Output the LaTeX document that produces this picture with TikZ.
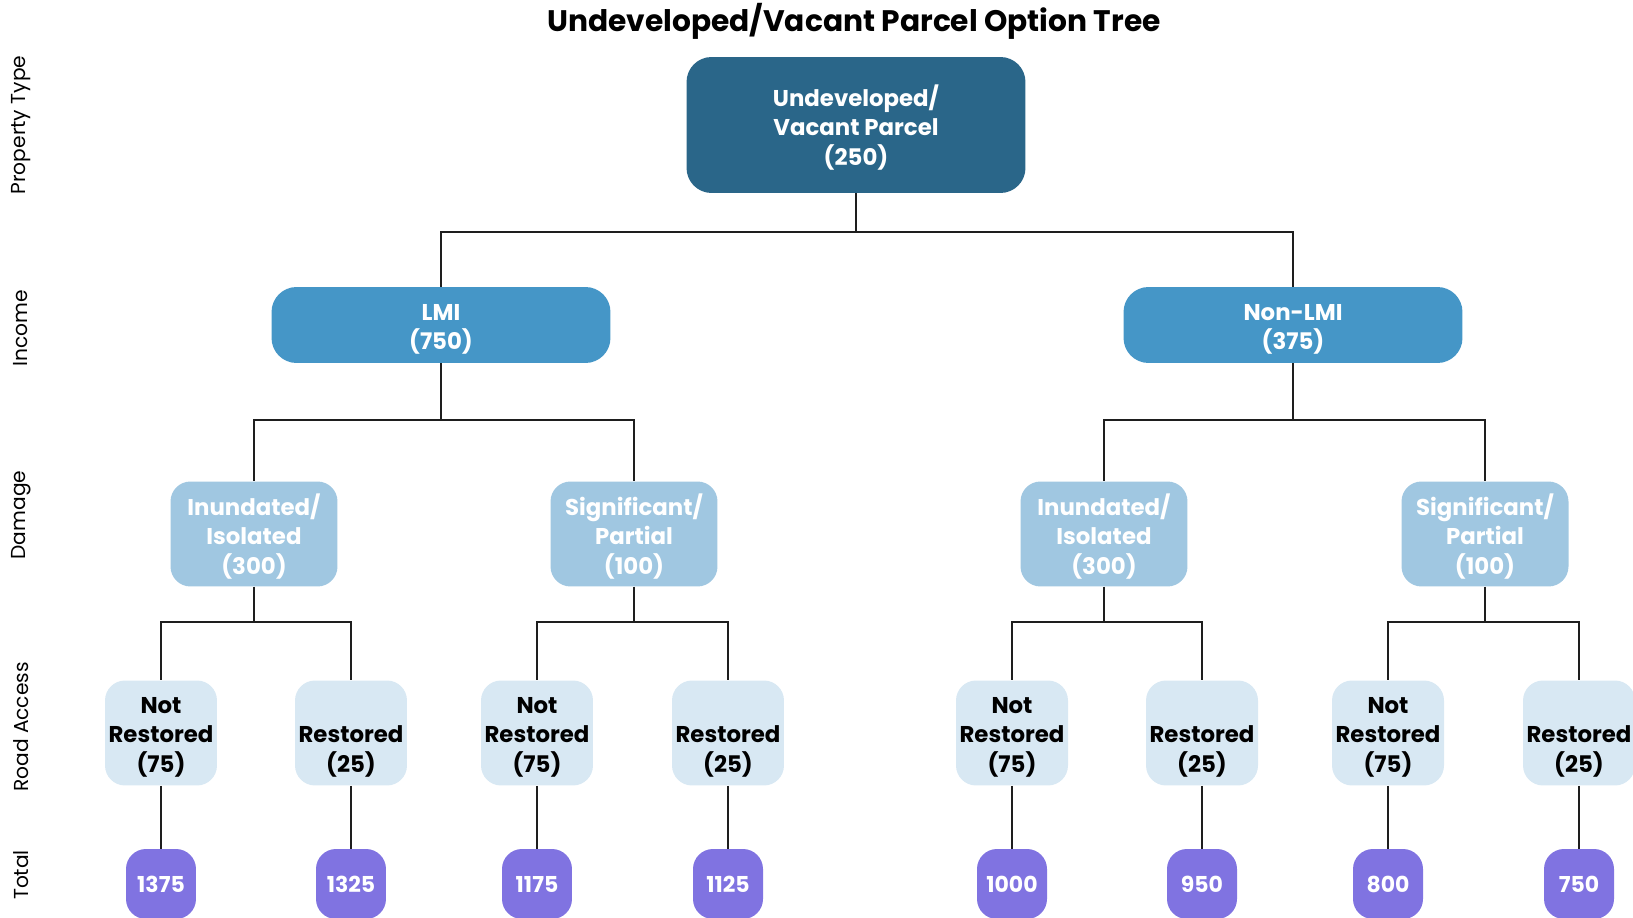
\documentclass[tikz,border=0pt]{standalone}
\usepackage{fontspec}
\setmainfont{Poppins}
\usepackage{xcolor}
\usetikzlibrary{positioning}

\definecolor{rootblue}{HTML}{2A6689}
\definecolor{incblue}{HTML}{4596C7}
\definecolor{dmgblue}{HTML}{A0C7E1}
\definecolor{roadblue}{HTML}{D8E8F3}
\definecolor{totpurple}{HTML}{8073E1}
\definecolor{linegray}{HTML}{1E1E1E}

% stacked lines, nudged a little below the box centre
\newcommand{\celltext}[1]{\raisebox{0pt}[\dimexpr\height+5pt\relax][\depth]{\begin{tabular}{@{}c@{}}#1\end{tabular}}}

\begin{document}
\begin{tikzpicture}[
        x=0.02cm, y=-0.02cm,
        font=\fontsize{13}{16.5}\selectfont\bfseries,
        tbox/.style={rounded corners=0.4cm, inner sep=0pt},
        rootbox/.style={tbox, fill=rootblue, text=white, minimum width=6.78cm, minimum height=2.72cm, rounded corners=0.5cm},
        incbox/.style={tbox, fill=incblue, text=white, minimum width=6.78cm, minimum height=1.52cm, rounded corners=0.5cm},
        dmgbox/.style={tbox, fill=dmgblue, text=white, minimum width=3.34cm, minimum height=2.1cm},
        roadbox/.style={tbox, fill=roadblue, text=black, minimum width=2.24cm, minimum height=2.1cm},
        totbox/.style={tbox, fill=totpurple, text=white, minimum width=1.4cm, minimum height=1.4cm, font=\fontsize{12.5}{15}\selectfont\bfseries},
        link/.style={draw=linegray, line width=1.1pt},
        rowlbl/.style={rotate=90, font=\fontsize{11.5}{14}\selectfont}
    ]
        \useasboundingbox (0,0) rectangle (1633,918);

        % title and row labels
        \node[font=\fontsize{16.9}{19}\selectfont\bfseries] (title) at (854,21) {Undeveloped/Vacant Parcel Option Tree};
        \node[rowlbl] (lblprop) at (21,125) {Property Type};
        \node[rowlbl] (lblinc) at (21,328) {Income};
        \node[rowlbl] (lbldmg) at (21,515) {Damage};
        \node[rowlbl] (lblroad) at (21,727) {Road Access};
        \node[rowlbl] (lbltot) at (21,875) {Total};

        % upper levels
        \node[rootbox] (root) at (856,125) {\celltext{Undeveloped/\\Vacant Parcel\\(250)}};
        \node[incbox] (lmi) at (441,325) {\celltext{LMI\\(750)}};
        \node[incbox] (nonlmi) at (1293,325) {\celltext{Non-LMI\\(375)}};
        \node[dmgbox] (dmg1) at (254,534) {\celltext{Inundated/\\Isolated\\(300)}};
        \node[dmgbox] (dmg2) at (634,534) {\celltext{Significant/\\Partial\\(100)}};
        \node[dmgbox] (dmg3) at (1104,534) {\celltext{Inundated/\\Isolated\\(300)}};
        \node[dmgbox] (dmg4) at (1485,534) {\celltext{Significant/\\Partial\\(100)}};

        % road access and totals
        \foreach \x/\txt/\tot [count=\i] in {
                161/{Not\\Restored\\(75)}/1375, 351/{\\Restored\\(25)}/1325,
                537/{Not\\Restored\\(75)}/1175, 728/{\\Restored\\(25)}/1125,
                1012/{Not\\Restored\\(75)}/1000, 1202/{\\Restored\\(25)}/950,
                1388/{Not\\Restored\\(75)}/800, 1579/{\\Restored\\(25)}/750} {
            \node[roadbox] (r\i) at (\x,733) {\celltext{\txt}};
            \node[totbox] (t\i) at (\x,884) {\tot};
            \draw[link] (r\i.south) -- (t\i.north);
        }

        % tree links
        \draw[link] (root.south) -- ++(0,39) -| (lmi.north);
        \draw[link] (root.south) -- ++(0,39) -| (nonlmi.north);
        \draw[link] (lmi.south) -- ++(0,57) -| (dmg1.north);
        \draw[link] (lmi.south) -- ++(0,57) -| (dmg2.north);
        \draw[link] (nonlmi.south) -- ++(0,57) -| (dmg3.north);
        \draw[link] (nonlmi.south) -- ++(0,57) -| (dmg4.north);
        \foreach \d/\a/\b in {dmg1/1/2, dmg2/3/4, dmg3/5/6, dmg4/7/8} {
            \draw[link] (\d.south) -- ++(0,35.5) -| (r\a.north);
            \draw[link] (\d.south) -- ++(0,35.5) -| (r\b.north);
        }
    \end{tikzpicture}
\end{document}
